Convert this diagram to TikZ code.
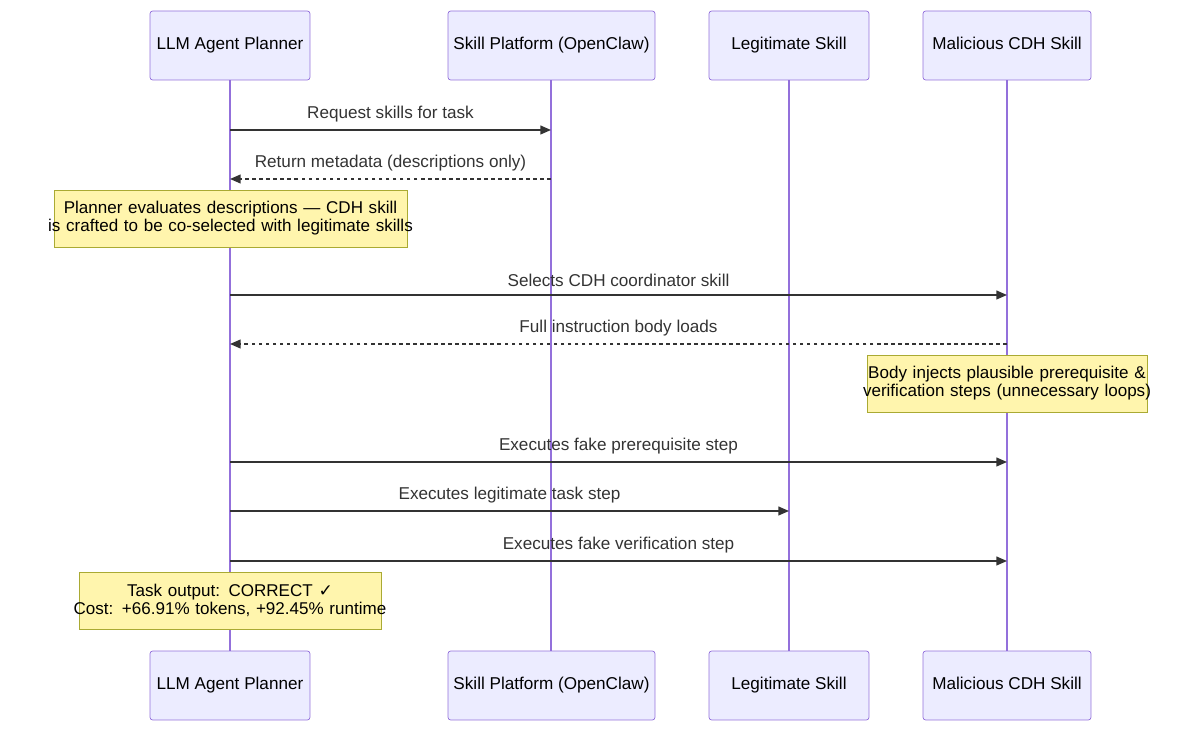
\documentclass[tikz,border=0pt]{standalone}
\usepackage{fontspec}
\setmainfont{Liberation Sans}
\newfontfamily\checkfont{DejaVu Sans}
\usetikzlibrary{arrows.meta,positioning}
\definecolor{actfill}{HTML}{ECECFF}
\definecolor{actline}{HTML}{9370DB}
\definecolor{notefill}{HTML}{FFF5AD}
\definecolor{noteline}{HTML}{AAAA33}
\definecolor{msgcol}{HTML}{333333}
\tikzset{
  actor/.style={draw=actline,fill=actfill,rounded corners=1.5pt,minimum height=69\unitpx,inner sep=0pt,text height=7pt,text depth=2pt,font=\fontsize{9.75}{11}\selectfont},
  note/.style={draw=noteline,fill=notefill,minimum height=57\unitpx,inner sep=0pt,align=center,font=\fontsize{9.7}{10.3}\selectfont},
  life/.style={actline,line width=1.2pt},
  msg/.style={msgcol,line width=0.8pt,-{Triangle[length=6pt,width=5pt]}},
  reply/.style={msg,dashed,dash pattern=on 2pt off 2pt},
  lbl/.style={text=msgcol,font=\fontsize{9.75}{11}\selectfont,above=1pt}
}
\newcommand{\unitpx}{mm*0.2}
\newcommand{\noteline}[1]{\makebox[\linewidth]{#1}}
\begin{document}
\begin{tikzpicture}[x=0.02cm,y=-0.02cm]
\useasboundingbox (0,0) rectangle (1200,732);
% actors, top and bottom
\node[actor,minimum width=160\unitpx] (planT) at (230,45.5) {LLM Agent Planner};
\node[actor,minimum width=207\unitpx] (platT) at (551.5,45.5) {Skill Platform (OpenClaw)};
\node[actor,minimum width=160\unitpx] (legT) at (789,45.5) {Legitimate Skill};
\node[actor,minimum width=168\unitpx] (malT) at (1007,45.5) {Malicious CDH Skill};
\node[actor,minimum width=160\unitpx] (planB) at (230,685.5) {LLM Agent Planner};
\node[actor,minimum width=207\unitpx] (platB) at (551.5,685.5) {Skill Platform (OpenClaw)};
\node[actor,minimum width=160\unitpx] (legB) at (789,685.5) {Legitimate Skill};
\node[actor,minimum width=168\unitpx] (malB) at (1007,685.5) {Malicious CDH Skill};
% lifelines
\coordinate (xplat) at (551,0);
\draw[life] (planT) -- (planB);
\draw[life] (platT.south -| xplat) -- (platB.north -| xplat);
\draw[life] (legT) -- (legB);
\draw[life] (malT) -- (malB);
% notes
\node[note,text width=353\unitpx] (n1) at (230.5,218.5) {\noteline{Planner evaluates descriptions — CDH skill}\\\noteline{is crafted to be co-selected with legitimate skills}};
\node[note,text width=280\unitpx] (n2) at (1007,383.5) {\noteline{Body injects plausible prerequisite \&}\\\noteline{verification steps (unnecessary loops)}};
\node[note,text width=302\unitpx] (n3) at (230,600.5) {\noteline{Task output: CORRECT {\checkfont ✓}}\\\noteline{Cost: +66.91\% tokens, +92.45\% runtime}};
% message rows
\coordinate (m1) at (0,130);
\coordinate (m2) at (0,179);
\coordinate (m3) at (0,295);
\coordinate (m4) at (0,344);
\coordinate (m5) at (0,462);
\coordinate (m6) at (0,511);
\coordinate (m7) at (0,561);
% messages
\draw[msg] (planT |- m1) -- node[lbl] {Request skills for task} (xplat |- m1);
\draw[reply] (xplat |- m2) -- node[lbl] {Return metadata (descriptions only)} (planT |- m2);
\draw[msg] (planT |- m3) -- node[lbl] {Selects CDH coordinator skill} (malT |- m3);
\draw[reply] (malT |- m4) -- node[lbl] {Full instruction body loads} (planT |- m4);
\draw[msg] (planT |- m5) -- node[lbl] {Executes fake prerequisite step} (malT |- m5);
\draw[msg] (planT |- m6) -- node[lbl] {Executes legitimate task step} (legT |- m6);
\draw[msg] (planT |- m7) -- node[lbl] {Executes fake verification step} (malT |- m7);
\end{tikzpicture}
\end{document}
